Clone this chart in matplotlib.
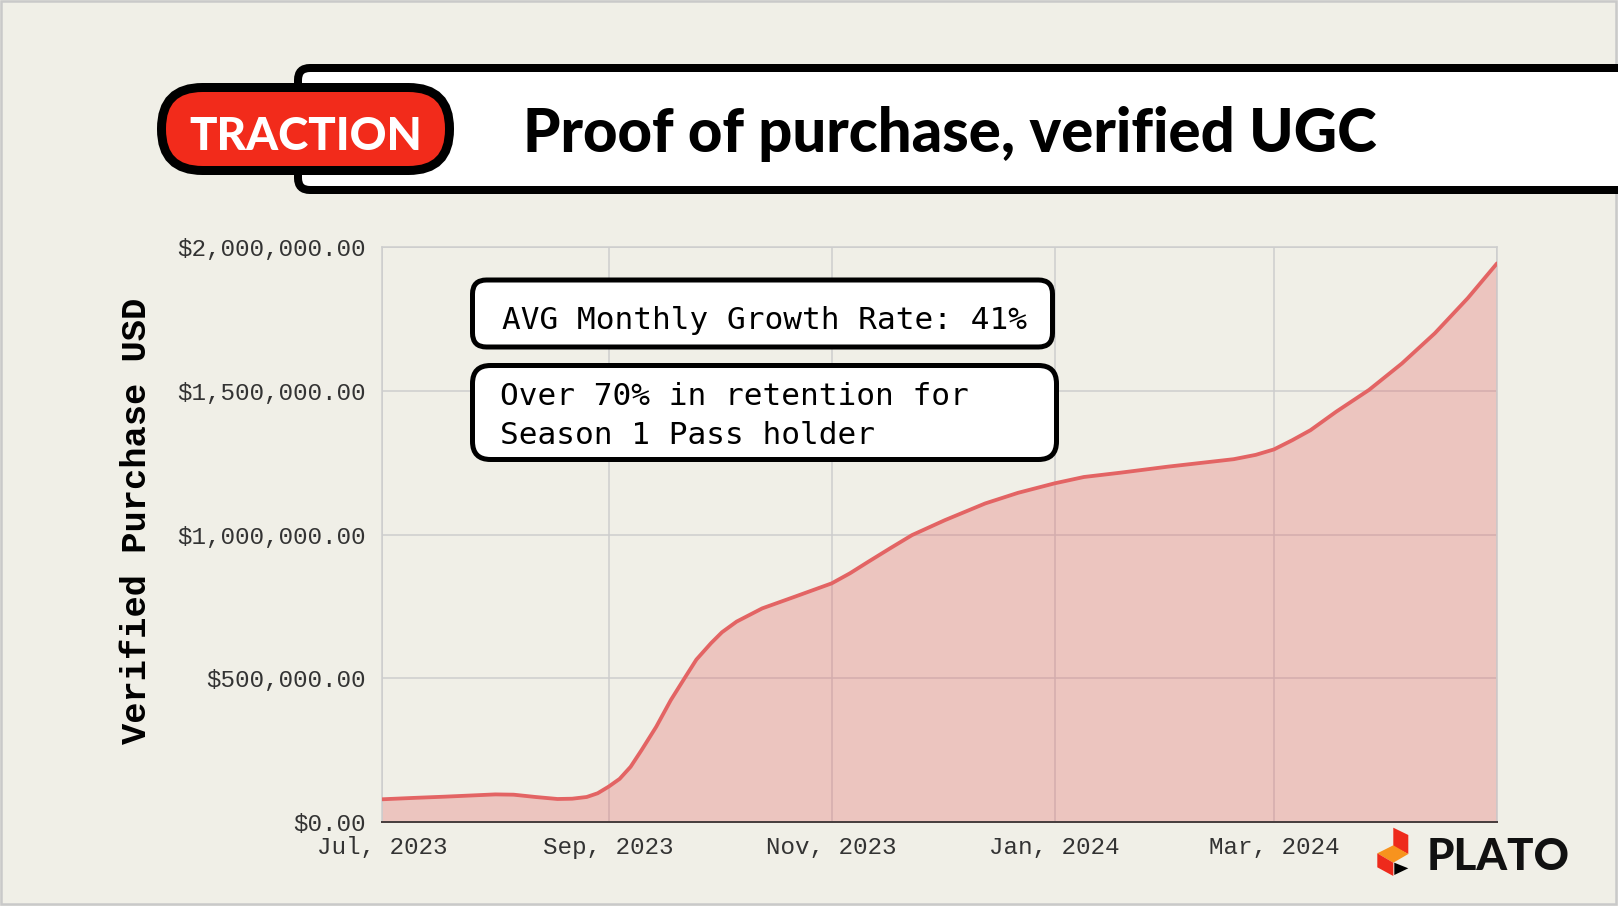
import numpy as np
import pandas as pd
import matplotlib
matplotlib.use("Agg")
import matplotlib.pyplot as plt
from matplotlib.patches import FancyBboxPatch, Polygon, Rectangle
from matplotlib.ticker import FuncFormatter

W, H = 1618, 906
BG = "#F0EFE7"
LINE = "#E36464"

# values
dates = pd.to_datetime([
    "2023-07-01", "2023-07-10", "2023-07-18", "2023-07-25", "2023-08-01",
    "2023-08-06", "2023-08-12", "2023-08-18", "2023-08-22", "2023-08-26",
    "2023-08-29", "2023-09-01", "2023-09-04", "2023-09-07", "2023-09-10",
    "2023-09-14", "2023-09-18", "2023-09-22", "2023-09-25", "2023-09-29",
    "2023-10-02", "2023-10-06", "2023-10-13", "2023-10-22", "2023-11-01",
    "2023-11-06", "2023-11-11", "2023-11-17", "2023-11-23", "2023-12-02",
    "2023-12-13", "2023-12-22", "2024-01-01", "2024-01-09", "2024-01-19",
    "2024-02-01", "2024-02-19", "2024-02-25", "2024-03-01", "2024-03-06",
    "2024-03-11", "2024-03-18", "2024-03-27", "2024-04-05", "2024-04-14",
    "2024-04-23", "2024-05-01",
])
purchase_usd = [
    79000, 84000, 88000, 92000, 96000,
    95000, 87000, 80000, 81000, 87000,
    100000, 123000, 150000, 192000, 250000,
    331000, 424000, 505000, 565000, 622000,
    660000, 697000, 743000, 784000, 830000,
    865000, 905000, 952000, 998000, 1050000,
    1108000, 1145000, 1178000, 1200000, 1215000,
    1236000, 1262000, 1277000, 1296000, 1328000,
    1363000, 1427000, 1503000, 1595000, 1700000,
    1822000, 1943000,
]

tick_dates = pd.to_datetime(["2023-07-01", "2023-09-01", "2023-11-01",
                             "2024-01-01", "2024-03-01", "2024-05-01"])
tick_labels = ["Jul, 2023", "Sep, 2023", "Nov, 2023", "Jan, 2024", "Mar, 2024", ""]
y_ticks = [0, 500000, 1000000, 1500000, 2000000]

title = "Proof of purchase, verified UGC"
badge = "TRACTION"
note1 = "AVG Monthly Growth Rate: 41%"
note2 = ["Over 70% in retention for", "Season 1 Pass holder"]
ylabel = "Verified Purchase USD"


def px(x0, y0, x1, y1):
    return [x0 / W, 1 - y1 / H, (x1 - x0) / W, (y1 - y0) / H]


def lw_px(p):
    return p * 72 / 100


fig = plt.figure(figsize=(W / 100, H / 100), dpi=100, facecolor=BG)

ax = fig.add_axes(px(382, 247, 1497, 822))
ax.set_facecolor(BG)
ax.fill_between(dates, purchase_usd, 0, color=LINE, alpha=0.3, lw=0, zorder=2)
ax.plot(dates, purchase_usd, color=LINE, lw=lw_px(3.8), zorder=3,
        solid_joinstyle="round", solid_capstyle="round")
ax.set_xlim(tick_dates[0], tick_dates[-1])
ax.set_ylim(0, 2000000)
ax.set_xticks(tick_dates)
ax.set_xticklabels(tick_labels)
ax.set_yticks(y_ticks)
ax.yaxis.set_major_formatter(FuncFormatter(lambda v, p: f"${v:,.2f}"))
ax.grid(True, color="#CDCDCD", lw=lw_px(1.5), zorder=1)
ax.set_axisbelow(True)
ax.tick_params(axis="both", length=0, labelsize=17.5, labelcolor="#333333")
ax.tick_params(axis="x", pad=10)
ax.tick_params(axis="y", pad=12)
for lab in ax.get_xticklabels() + ax.get_yticklabels():
    lab.set_fontfamily("Liberation Mono")
for s in ["left", "top", "right"]:
    ax.spines[s].set_color("#CDCDCD")
    ax.spines[s].set_linewidth(lw_px(1.5))
ax.spines["bottom"].set_color("#4A4040")
ax.spines["bottom"].set_linewidth(lw_px(2))

fig.text(137 / W, 1 - 521 / H, ylabel, rotation=90, ha="center", va="center",
         fontsize=25.5, fontweight="bold", family="Liberation Mono", color="black")

# overlay in pixel coordinates for the decorations
ov = fig.add_axes([0, 0, 1, 1], zorder=10)
ov.set_xlim(0, W)
ov.set_ylim(H, 0)
ov.axis("off")
ov.patch.set_alpha(0)

ov.add_patch(Rectangle((1, 1), W - 3, H - 3, fill=False, ec="#C9C9C9", lw=lw_px(2.5)))

ov.add_patch(FancyBboxPatch((298, 68), 1400, 122,
                            boxstyle="round,pad=0,rounding_size=12",
                            fc="white", ec="black", lw=lw_px(8)))
ov.add_patch(FancyBboxPatch((161.5, 87.5), 288, 83,
                            boxstyle="round,pad=0,rounding_size=41",
                            fc="#F22B1B", ec="black", lw=lw_px(9)))

t_badge = ov.text(306, 149.5, badge, ha="center", va="baseline", color="white",
                  fontsize=36, fontweight="black", family="Lato")
t_title = ov.text(523, 152, title, ha="left", va="baseline", color="black",
                  fontsize=43, fontweight="black", family="Lato")

# note boxes
ov.add_patch(FancyBboxPatch((472.5, 280), 580, 67,
                            boxstyle="round,pad=0,rounding_size=14",
                            fc="white", ec="black", lw=lw_px(5)))
ov.add_patch(FancyBboxPatch((472.5, 365.5), 584, 94,
                            boxstyle="round,pad=0,rounding_size=18",
                            fc="white", ec="black", lw=lw_px(5)))
t_n1 = ov.text(502, 329, note1, ha="left", va="baseline", fontsize=22.4,
               family="DejaVu Sans Mono", color="black")
t_n2a = ov.text(500, 405, note2[0], ha="left", va="baseline", fontsize=22.4,
                family="DejaVu Sans Mono", color="black")
t_n2b = ov.text(500, 444.5, note2[1], ha="left", va="baseline", fontsize=22.4,
                family="DejaVu Sans Mono", color="black")

# PLATO logo
red, orange = "#EE2A1C", "#F7931E"
ov.add_patch(Polygon([(1393.3, 827.7), (1408.3, 835), (1408.3, 854), (1393.3, 846.7)], fc=red, ec="none"))
ov.add_patch(Polygon([(1377.3, 853.3), (1393.3, 845.3), (1408.3, 854), (1393.3, 862.7)], fc=orange, ec="none"))
ov.add_patch(Polygon([(1377.3, 853.3), (1393.3, 862.7), (1393.3, 876), (1377.3, 867.3)], fc=red, ec="none"))
ov.add_patch(Polygon([(1394.3, 862.7), (1408.3, 868.3), (1394.3, 875)], fc="black", ec="none"))
t_logo = ov.text(1427, 870, "PLATO", ha="left", va="baseline", fontsize=30,
                 fontweight="black", family="Lato", color="#111111")

# fit text widths to the reference
fig.canvas.draw()
r = fig.canvas.get_renderer()
for t, target in [(t_title, 854), (t_badge, 233), (t_logo, 143)]:
    w = t.get_window_extent(r).width
    t.set_fontsize(t.get_fontsize() * target / w)

fig.savefig("out.png", dpi=100, facecolor=BG)
